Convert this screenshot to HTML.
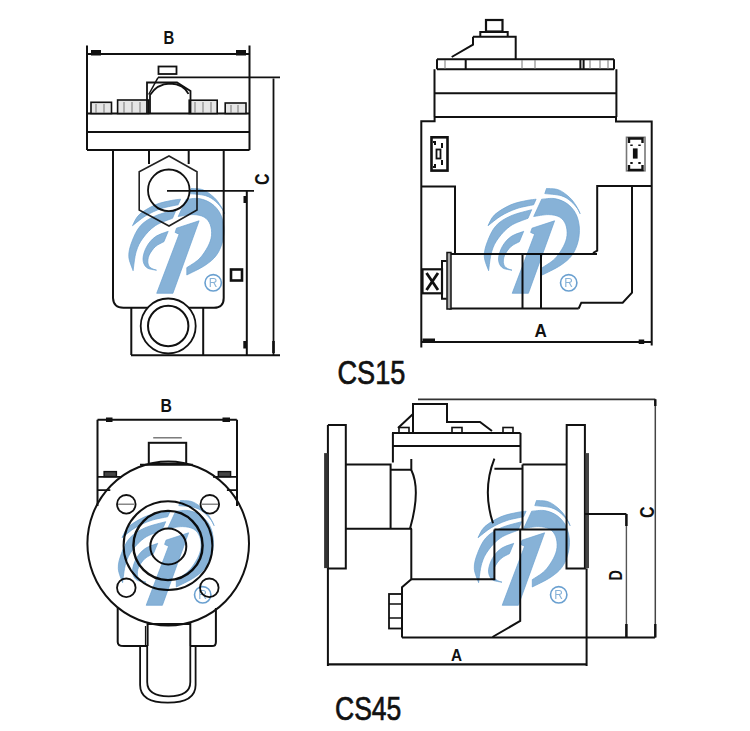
<!DOCTYPE html>
<html><head><meta charset="utf-8"><style>
html,body{margin:0;padding:0;background:#fff;}
svg{display:block;}
.t{font-family:"Liberation Sans",sans-serif;}
</style></head><body>
<svg width="750" height="731" viewBox="0 0 750 731">
<defs>
<g id="logo">
<path d="M8.0,40.7 C9.1,38.8 11.0,33.1 14.8,29.6 C18.6,26.1 25.5,22.2 30.8,19.8 C36.1,17.5 42.6,16.4 46.8,15.5 C51.0,14.6 54.6,14.4 56.1,14.2 L53.6,19.8 C50.8,20.4 42.4,21.7 37.0,23.5 C31.6,25.3 25.8,28.0 21.0,30.9 C16.2,33.8 10.2,39.1 8.0,40.7 Z"/>
<path d="M51.7,24.7 C48.2,25.7 36.8,28.2 30.8,30.9 C24.9,33.6 19.9,36.4 16.0,40.7 C12.1,45.0 9.3,51.6 7.4,56.7 C5.4,61.8 4.1,66.7 4.3,71.5 C4.5,76.3 7.9,83.3 8.6,85.7 L8.6,85.7 C9.1,82.5 10.0,72.0 11.7,66.6 C13.3,61.1 15.3,57.3 18.5,53.0 C21.7,48.7 25.9,44.0 30.8,40.7 C35.7,37.4 45.1,34.5 48.0,33.3 Z"/>
<path d="M43.7,46.3 C41.6,47.2 34.4,49.2 30.8,51.8 C27.2,54.4 24.2,58.0 22.2,61.7 C20.1,65.4 18.5,70.5 18.5,74.0 C18.5,77.5 19.9,80.7 22.2,82.6 C24.4,84.5 30.4,84.8 32.0,85.2 L32.0,85.2 C31.0,84.8 27.3,83.9 25.9,82.6 C24.5,81.4 23.6,79.7 23.4,77.7 C23.2,75.6 23.4,73.0 24.6,70.3 C25.8,67.6 28.3,64.0 30.8,61.7 C33.3,59.4 38.0,57.5 39.4,56.7 Z"/>
<path d="M74.6,35.8 L52.0,43.2 L50.6,47.4 L54.6,49.2 L32.2,108.3 L48.4,108.3 L74.6,35.8 Z"/>
<path d="M61.7,14.2 C63.9,14.1 70.4,12.9 74.6,13.6 C78.8,14.3 83.5,16.1 87.0,18.6 C90.5,21.1 93.6,24.5 95.6,28.4 C97.7,32.3 98.9,37.3 99.3,42.0 C99.7,46.7 99.2,52.0 98.0,56.7 C96.8,61.4 94.8,66.4 91.9,70.3 C89.0,74.2 85.7,76.9 80.8,80.2 C75.9,83.5 65.4,88.4 62.3,90.0 L62.3,82.6 C64.3,81.2 71.1,77.5 74.6,74.0 C78.1,70.5 81.2,65.6 83.3,61.7 C85.4,57.8 86.6,54.3 87.0,50.6 C87.4,46.9 86.9,42.6 85.7,39.5 C84.5,36.4 82.5,33.7 79.6,32.1 C76.7,30.4 72.8,29.7 68.5,29.6 C64.2,29.5 56.2,31.2 53.7,31.5 Z"/>
<path d="M66.5,3.5 C68.5,3.7 74.9,3.4 78.7,4.9 C82.5,6.4 86.5,9.7 89.4,12.3 C92.3,14.9 94.2,17.8 96.0,20.5 C97.8,23.2 99.4,27.3 100.1,28.7 L100.1,28.7 C99.7,27.9 99.1,25.9 97.6,23.8 C96.1,21.8 93.7,18.6 91.0,16.4 C88.3,14.2 85.6,12.0 81.2,10.7 C76.8,9.4 67.5,8.9 64.8,8.6 Z"/>
<circle cx="88.7" cy="97.8" r="8.2" fill="none" stroke-width="1.6"/>
<text x="88.7" y="102.1" font-size="12" text-anchor="middle" stroke="none" font-family="Liberation Sans, sans-serif">R</text>
</g>

</defs>

<g fill="none" stroke="#111" stroke-width="2">
<!-- ============ TOP-LEFT VIEW ============ -->
<path d="M87,45.5V150 M249.5,45.5V150"/>
<path d="M87,54H249.5" stroke-width="1.8"/>
<rect x="91" y="50" width="10" height="5.5" fill="#111" stroke="none"/>
<rect x="236" y="50" width="10" height="5.5" fill="#111" stroke="none"/>
<path d="M87,113.5H249.5 M87,132H249.5 M87,150H249.5"/>
<g stroke-width="1.6" fill="#e6e6e6">
<rect x="91" y="102.3" width="20.5" height="11.2"/>
<rect x="117.6" y="100" width="31" height="13.5"/>
<rect x="189.2" y="100.2" width="28" height="13.3"/>
<rect x="225.2" y="103" width="20.8" height="10.5"/>
</g>
<g stroke-width="1" stroke="#777">
<path d="M96,104V113 M104,104V113 M124,102V113 M132,102V113 M140,102V113 M195,102V113 M203,102V113 M211,102V113 M231,105V113 M238,105V113"/>
</g>
<path d="M147,113V82.5H177L190.5,91V113" stroke-width="1.8"/>
<path d="M150,113V95Q157,84 170,83.5Q184,84 188.5,94" stroke-width="1.8"/>
<path d="M148.7,94.5L158,77.7" stroke-width="1.5"/>
<rect x="158.5" y="66.5" width="18" height="7.5" stroke-width="1.8"/>
<path d="M158,77.3H280" stroke-width="1.8"/>
<path d="M113,150V298Q113.5,307.8 123.4,307.8H214Q223.7,307.8 223.7,298V150"/>
<path d="M149,150V164 M188.7,150V164"/>
<path d="M169,156L197,171.7V210L169,226L139.2,210V171.7Z" stroke-width="1.6" stroke="#222"/>
<circle cx="168.8" cy="190.3" r="20.8" stroke-width="1.8"/>
<path d="M167,190.8H254" stroke-width="1.8"/>
<path d="M273.5,78.5V355.3" stroke-width="1.8"/><path d="M273.5,341V353" stroke-width="2.6"/>
<path d="M246.8,191V355.3"/>
<rect x="243.5" y="196" width="3" height="7" fill="#111" stroke="none"/>
<rect x="243.3" y="341" width="3" height="7.5" fill="#111" stroke="none"/>
<path d="M131,355.3H280"/>
<path d="M131.3,307.8V355 M203.2,307.8V355"/>
<circle cx="168.2" cy="326" r="27.5" stroke-width="1.8" fill="#fff"/>
<circle cx="168.2" cy="326" r="20.2" stroke-width="2"/>
<rect x="231" y="269.5" width="11" height="11" stroke-width="2.6"/>
<!-- ============ TOP-RIGHT VIEW ============ -->
<rect x="486" y="20" width="16.5" height="11.5" stroke-width="2.2"/>
<path d="M480.3,36.7V32H507.7V36.7"/>
<path d="M473,36.7H515.7V59.3 M473,36.7V44.7L451.7,57"/>
<path d="M437,59.3H614 M437,69.3H614 M437,59.3V69.3 M465.7,59.3V69.3 M580.4,59.3V69.3 M583.6,59.3V69.3 M614,59.3V69.3"/>
<g stroke-width="1" stroke="#777"><path d="M445,60V69 M522,60V69 M535,60V69 M590,60V69 M600,60V69 M608,60V69"/></g>
<path d="M434.5,69.3V117.1 M616.4,69.3V117.1 M434.5,93.3H616.4 M434.5,117.1H616.4"/>
<path d="M434.6,117.1V121.3H421.3V347.6 M616,117.1V121.5H651.7V345.5"/>
<rect x="431.5" y="137.3" width="16" height="33.3" stroke-width="2.6"/>
<path d="M433,142H435V145 M442,143V148 M442,160V165 M433,167H435V164" stroke-width="2"/>
<rect x="436.5" y="149.5" width="4" height="9" stroke-width="1.8"/>
<rect x="626.5" y="137.3" width="18.5" height="33.5" stroke="#777" stroke-width="1.6"/>
<path d="M629,143V138.5H642.5V143 M629,165V170H642.5V165 M631.5,144.5V146 M639.5,144.5V146 M631.5,162V164 M639.5,162V164" stroke-width="2.4"/>
<rect x="633.5" y="149" width="3.5" height="9" fill="#111" stroke-width="1.2"/>
<path d="M421.3,186.5H455V253.5 M651.7,186H597.2V250.6L593,253 M632,186V292.7L622.7,302.7H581.3L578.7,308.5"/>
<path d="M449.6,254H597 M449,308.5H578.7"/>
<rect x="447" y="252.5" width="4" height="56.5" fill="#aaa" stroke-width="1.5"/>
<path d="M446.6,261H442V298.7H446.6"/>
<rect x="422.5" y="269.3" width="19.5" height="24" stroke-width="2.2"/>
<path d="M426.5,273L438,290M438,273L426.5,290" stroke-width="2.8"/>
<path d="M522.5,253.5V308.5 M541,253.5V308.5"/>
<path d="M421.3,342H652"/>
<rect x="422.5" y="338.5" width="12.5" height="3.5" fill="#111" stroke="none"/>
<rect x="638.7" y="339.5" width="5.5" height="4.5" fill="#111" stroke="none"/>
<!-- ============ BOTTOM-LEFT VIEW ============ -->
<path d="M97.5,419.7H236.8 M97.5,419.7V506 M237,419.7V506"/>
<rect x="106" y="417.5" width="6.5" height="4.5" fill="#111" stroke="none"/>
<rect x="222.5" y="417.5" width="7.5" height="4.5" fill="#111" stroke="none"/>
<ellipse cx="168.2" cy="543.5" rx="80.8" ry="82"/>
<path d="M140,464.8H192.8"/>
<rect x="148.8" y="442.8" width="37.4" height="21"/>
<path d="M153.2,437.8H181.8" stroke-width="1.3" stroke="#666"/>
<rect x="104.1" y="471.6" width="12.3" height="5" fill="#444" stroke-width="1.4"/>
<rect x="218.3" y="471.6" width="12.3" height="5" fill="#444" stroke-width="1.4"/>
<path d="M97,476.9H121.3 M213,476.9H236.8 M97,490.1H110.3 M226.9,490.1H236.8" stroke-width="1.8"/>
<g stroke-width="1.8">
<circle cx="126.3" cy="504.3" r="9.3"/>
<circle cx="209.8" cy="504.3" r="9.3"/>
<circle cx="126.3" cy="587.8" r="9.3"/>
<circle cx="209.3" cy="587.8" r="9.3"/>
</g>
<path d="M118,504.3H134.5 M201.5,504.3H218" stroke-width="1.5" stroke="#888"/>
<circle cx="168" cy="545.7" r="44.4" stroke-width="2"/>
<circle cx="168" cy="545.5" r="34.6" stroke-width="2.4"/>
<circle cx="168.3" cy="546.4" r="18" stroke-width="2"/>
<path d="M117.7,608V641.9Q117.7,646.1 124,646.1H147.6 M215.9,608V641.9Q215.9,646.1 212,646.1H190.3"/>
<path d="M147.6,622.7V646 M190.3,622.7V646 M147.6,624H190.3"/>
<path d="M145.5,626V646" stroke-width="1.2"/>
<path d="M140.1,646V685Q140.1,702.7 167.8,702.7Q195.6,702.7 195.6,685V646" stroke-width="1.8"/>
<path d="M147.2,646V682Q147.2,696.3 168.7,696.3Q190.3,696.3 190.3,682V646" stroke-width="1.8"/>
<!-- ============ BOTTOM-RIGHT VIEW ============ -->
<path d="M327.9,569V666 M327.9,425.1V569 M327.9,425.1H345.8V568.4H327.9"/>
<rect x="324.1" y="453.1" width="3.8" height="115" fill="#333" stroke="none"/>
<path d="M566.7,425.1H584.9V568.4H566.5Z"/>
<rect x="585.6" y="453.1" width="3.4" height="115" fill="#444" stroke="none"/>
<path d="M586.6,568.4V666"/>
<path d="M345.8,464.6H390.6V528.8 M345.8,528.8H412 M390.6,469.7H412"/>
<path d="M411.3,459V470Q421,490 410,528.8 M411.3,528.8V579.2H494.4V529.6"/>
<path d="M522.5,464.6H566.7 M522.5,464.6V529.6 M494.4,468.7H522.5 M494.4,529.6H566.7"/>
<path d="M494.4,458.7Q482,490 493,523.3"/>
<path d="M392,433H520.5 M392,446H520.5 M392.9,433V462.5 M520.5,433V463"/>
<path d="M413,433V404H447V422H480L492,431 M413,414L398,428"/>
<g stroke-width="1.6">
<rect x="399" y="427.5" width="10" height="5.5"/>
<rect x="452" y="427.5" width="10" height="5.5"/>
<rect x="503" y="427.5" width="10" height="5.5"/>
</g>
<path d="M411.3,579.2L402,587.3V637.5"/>
<rect x="389" y="594" width="13" height="34.5" stroke-width="1.8"/>
<path d="M389,604H402 M389,618H402" stroke-width="1.5"/>
<path d="M520.2,529.6V620.9L492.5,637"/>
<path d="M402,637.5H655" stroke-width="2.2"/>
<path d="M418,399.3H655.3" stroke-width="1.8" stroke="#333"/><path d="M655.3,399.3V637.5" stroke-width="1.5" stroke="#444"/><path d="M655.3,399.3V406 M655.3,624V637.5" stroke-width="2.4"/>
<path d="M584.9,514H626.4" stroke-width="2"/><path d="M626.4,514V637" stroke-width="1.4" stroke="#555"/><path d="M626.4,514V526 M626.4,624V637" stroke-width="2.5"/>
<path d="M327.9,664.4H586.6" stroke-width="2.2"/>
</g>
<g fill="#111" class="t">
<g transform="translate(163.5,44) scale(0.83,1)"><text font-size="18" font-weight="bold">B</text></g>
<g transform="translate(160.5,412) scale(0.83,1)"><text font-size="19" font-weight="bold">B</text></g>
<g transform="translate(451,660.5) scale(0.9,1)"><text font-size="17" font-weight="bold">A</text></g>
<g transform="translate(534.5,337) scale(0.9,1)"><text font-size="19" font-weight="bold">A</text></g>
<g transform="translate(337.5,384) scale(0.81,1)"><text font-size="33.5" stroke="#111" stroke-width="0.7">CS15</text></g>
<g transform="translate(335,720.4) scale(0.78,1)"><text font-size="34" stroke="#111" stroke-width="0.7">CS45</text></g>
<g transform="translate(268.5,185) rotate(-90)"><text font-size="20" transform="scale(0.8,1)" font-weight="bold">C</text></g>
<g transform="translate(653.5,518) rotate(-90)"><text font-size="20" transform="scale(0.8,1)" font-weight="bold">C</text></g>
<g transform="translate(621.5,580.5) rotate(-90)"><text font-size="18" transform="scale(0.8,1)" font-weight="bold">D</text></g>
</g>
<g fill="#87b2d7" stroke="#6aa0d0" stroke-width="0.7" style="mix-blend-mode:multiply">
<use href="#logo" transform="translate(480,185)"/>
<use href="#logo" transform="translate(124.5,185)"/>
<use href="#logo" transform="translate(470,497)"/>
<use href="#logo" transform="translate(114,497)"/>
</g>

</svg>
</body></html>
